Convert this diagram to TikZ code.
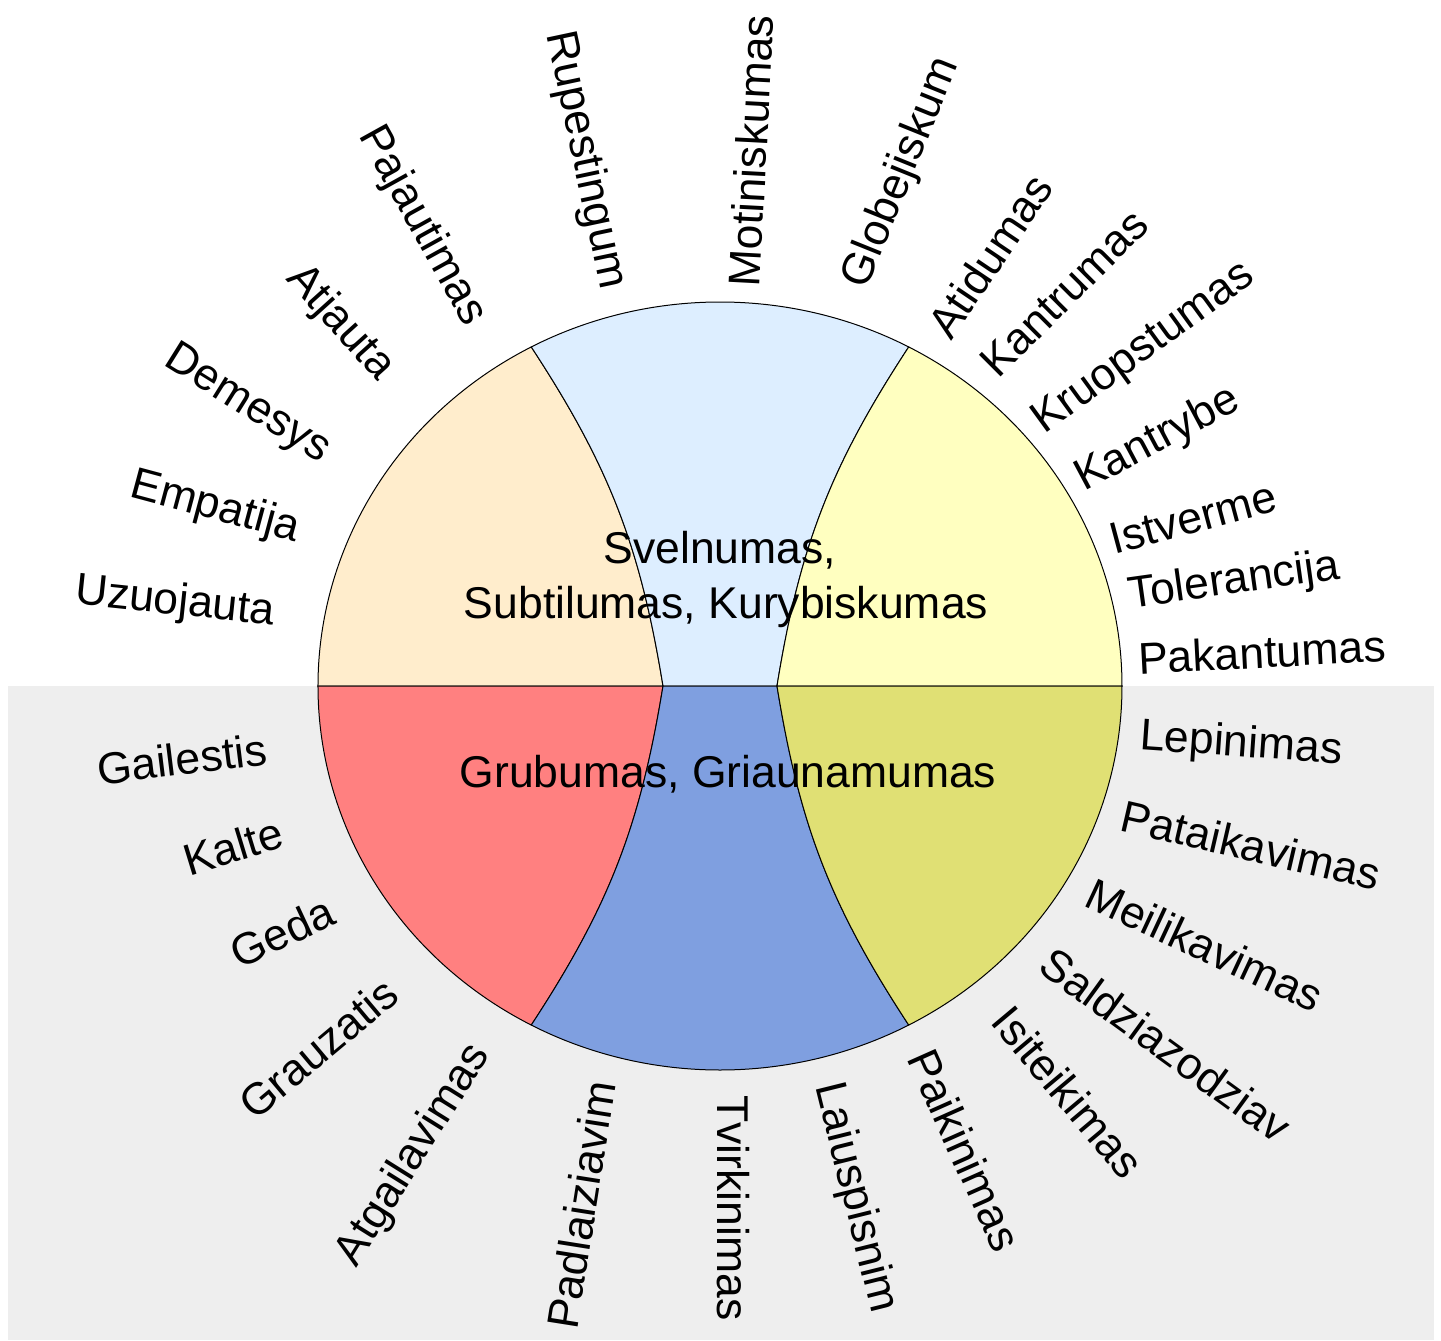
\documentclass[tikz,border=0pt]{standalone}
\usepackage{fontspec}
\setmainfont{Liberation Sans}
\definecolor{cream}{HTML}{FFEDCC}
\definecolor{skyblue}{HTML}{DDEEFF}
\definecolor{paleyellow}{HTML}{FFFFC0}
\definecolor{softred}{HTML}{FF8080}
\definecolor{midblue}{HTML}{7F9FE0}
\definecolor{mustard}{HTML}{E0E074}
\definecolor{bggrey}{HTML}{EEEEEE}
\tikzset{
  every node/.style={text=black, font=\fontsize{22.25}{27.5}\selectfont, inner sep=0pt},
  part/.style={draw=black, line width=0.5pt}
}

\begin{document}
\begin{tikzpicture}[x=0.5pt, y=0.5pt]
  \useasboundingbox (-720,-654) rectangle (721,686);
  % lower half background
  \fill[bggrey] (-712,-654) rectangle (714,0);
  % points on the rim and on the middle line
  \coordinate (tl) at (118:402 and 384);
  \coordinate (tr) at (62:402 and 384);
  \coordinate (bl) at (242:402 and 384);
  \coordinate (br) at (298:402 and 384);
  \coordinate (il) at (-57,0);
  \coordinate (ir) at (57,0);
  % parts
  \filldraw[part, fill=cream] (tl) arc[start angle=118, end angle=180, x radius=402, y radius=384] -- (il) to[bend right=12] (tl) -- cycle;
  \filldraw[part, fill=skyblue] (tl) arc[start angle=118, end angle=62, x radius=402, y radius=384] to[bend right=12] (ir) -- (il) to[bend right=12] (tl) -- cycle;
  \filldraw[part, fill=paleyellow] (tr) arc[start angle=62, end angle=0, x radius=402, y radius=384] -- (ir) to[bend left=12] (tr) -- cycle;
  \filldraw[part, fill=softred] (il) -- (-402,0) arc[start angle=180, end angle=242, x radius=402, y radius=384] to[bend right=12] (il) -- cycle;
  \filldraw[part, fill=midblue] (bl) arc[start angle=242, end angle=298, x radius=402, y radius=384] to[bend left=12] (ir) -- (il) to[bend left=12] (bl) -- cycle;
  \filldraw[part, fill=mustard] (br) arc[start angle=298, end angle=360, x radius=402, y radius=384] -- (ir) to[bend right=12] (br) -- cycle;

  % Nodes
  \node (soft) [align=center] at (6,107) {Svelnumas,\makebox[0.28em]{}\\Subtilumas, Kurybiskumas};
  \node (rough) at (8,-88) {Grubumas, Griaunamumas};

  \node (uzuojauta) [rotate=-6] at (-545,83) {Uzuojauta};
  \node (empatija) [rotate=-15] at (-505,178) {Empatija};
  \node (demesys) [rotate=-32] at (-473,281) {Demesys};
  \node (atjauta) [rotate=-48] at (-380,363) {Atjauta};
  \node (pajautimas) [rotate=-61] at (-298,460) {Pajautimas};
  \node (rupestingum) [rotate=-78] at (-135,526) {Rupestingum};
  \node (motiniskumas) [rotate=87] at (31,535) {Motiniskumas};
  \node (globejiskum) [rotate=68] at (182,513) {Globejiskum};
  \node (atidumas) [rotate=56] at (270,430) {Atidumas};
  \node (kantrumas) [rotate=45] at (344,393) {Kantrumas};
  \node (kruopstumas) [rotate=36] at (424,337) {Kruopstumas};
  \node (kantrybe) [rotate=28] at (438,246) {Kantrybe};
  \node (istverme) [rotate=15] at (473,168) {Istverme};
  \node (tolerancija) [rotate=8] at (514,104) {Tolerancija};
  \node (pakantumas) [rotate=3] at (542,34) {Pakantumas};

  \node (lepinimas) [rotate=-4] at (521,-59) {Lepinimas};
  \node (pataikavimas) [rotate=-13] at (531,-159) {Pataikavimas};
  \node (meilikavimas) [rotate=-25] at (485,-259) {Meilikavimas};
  \node (saldziazodziav) [rotate=-36] at (446,-359) {Saldziazodziav};
  \node (isiteikimas) [rotate=-50] at (348,-406) {Isiteikimas};
  \node (paikinimas) [rotate=-66] at (245,-464) {Paikinimas};
  \node (laiuspisnim) [rotate=-76] at (135,-512) {Laiuspisnim};
  \node (tvirkinimas) [rotate=-90] at (13,-522) {Tvirkinimas};
  \node (padlaiziavim) [rotate=81] at (-139,-519) {Padlaiziavim};
  \node (atgailavimas) [rotate=58] at (-306,-469) {Atgailavimas};
  \node (grauzatis) [rotate=40] at (-402,-362) {Grauzatis};
  \node (geda) [rotate=25] at (-438,-246) {Geda};
  \node (kalte) [rotate=17] at (-487,-160) {Kalte};
  \node (gailestis) [rotate=7] at (-538,-73) {Gailestis};
\end{tikzpicture}
\end{document}
